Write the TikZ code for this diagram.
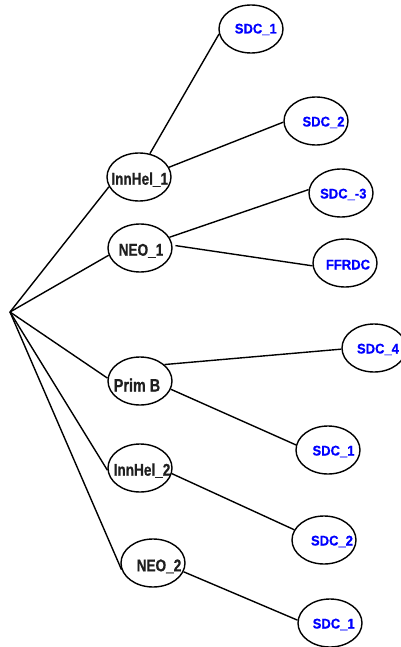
\documentclass[tikz,border=0pt]{standalone}
\usepackage{fontspec}
\setmainfont{Liberation Sans}
\newfontfamily\leaffont[FakeStretch=0.93, BoldFeatures={FakeBold=0.6}]{Liberation Sans}
\newfontfamily\groupfont[FakeStretch=0.8, BoldFeatures={FakeBold=0.6}]{Liberation Sans}
\usetikzlibrary{shapes.geometric}
\tikzset{
  oval/.style={ellipse, draw=black, line width=1.4pt, minimum width=64pt, minimum height=48pt, inner sep=0pt},
  txt/.style={anchor=base, inner sep=0pt},
  parent/.style={txt, text=black!88, font=\groupfont\fontsize{17}{19}\selectfont\bfseries},
  bigparent/.style={txt, text=black!88, font=\groupfont\fontsize{18}{20}\selectfont\bfseries},
  leaf/.style={txt, text=blue, font=\leaffont\fontsize{14}{16}\selectfont\bfseries},
  link/.style={line width=1.4pt, black}
}
% oval named #1 centred at (#2,#3); text #6 with its baseline at offset (#4,#5); text style #7
\newcommand{\ovalnode}[7]{%
  \node[oval] (#1) at (#2,#3) {};
  \node[#7] (#1-t) at (#2+#4,#3+#5) {#6};
}
\begin{document}
\begin{tikzpicture}[x=1pt, y=-1pt]
  \useasboundingbox (0,0) rectangle (401,647);
  \coordinate (root) at (10,312);

  % second level
  \ovalnode{ih1}{139}{177}{0.7}{7.7}{InnHel\_1}{parent}
  \ovalnode{neo1}{140}{248}{1}{7.7}{NEO\_1}{parent}
  \ovalnode{primb}{140}{381}{-3}{10.5}{Prim B}{bigparent}
  \ovalnode{ih2}{140}{468}{2}{7.7}{InnHel\_2}{parent}
  \ovalnode{neo2}{153}{563}{6}{8.3}{NEO\_2}{parent}

  % leaves
  \ovalnode{sdcA}{251}{29}{4.8}{4.5}{SDC\_1}{leaf}
  \ovalnode{sdcB}{316}{121}{7.5}{5.5}{SDC\_2}{leaf}
  \ovalnode{sdcC}{341}{193}{2.3}{5.5}{SDC\_-3}{leaf}
  \ovalnode{ffrdc}{345}{263}{3}{6.5}{FFRDC}{leaf}
  \ovalnode{sdcD}{374}{348}{4}{5.5}{SDC\_4}{leaf}
  \ovalnode{sdcE}{328}{450}{5.5}{5.5}{SDC\_1}{leaf}
  \ovalnode{sdcF}{324}{540}{8}{5.5}{SDC\_2}{leaf}
  \ovalnode{sdcG}{330}{623}{3.7}{5.5}{SDC\_1}{leaf}

  % connectors from the root to the left side of each group oval
  \draw[link] (root) -- (ih1.198);
  \draw[link] (root) -- (neo1.193);
  \draw[link] (root) -- (primb.175);
  \draw[link] (root) -- (ih2.184);
  \draw[link] (root) -- (neo2.192);

  % connectors from the groups to their leaves
  \draw[link] (ih1.65)   -- (sdcA.189);
  \draw[link] (ih1.18)   -- (sdcB.182);
  \draw[link] (neo1.20)  -- (sdcC.174);
  \draw[link, shorten <=3pt] (neo1.5) -- (ffrdc.185);
  \draw[link] (primb.34) -- (sdcD.182);
  \draw[link] (primb.345)-- (sdcE.171);
  \draw[link] (ih2.350)  -- (sdcF.161);
  \draw[link] (neo2.344) -- (sdcG.175);
\end{tikzpicture}
\end{document}
